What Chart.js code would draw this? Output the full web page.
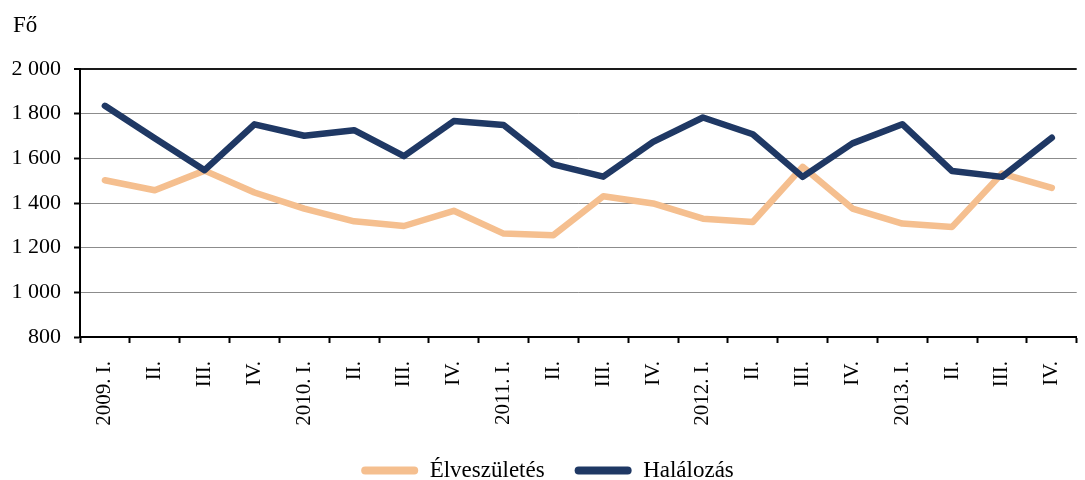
<!DOCTYPE html>
<html>
<head>
<meta charset="utf-8">
<script src="https://cdn.jsdelivr.net/npm/chart.js@4"></script>
<style>
  html, body { margin: 0; padding: 0; background: #fff; overflow: hidden; }
  #wrap { width: 1095px; height: 480px; position: relative; }
</style>
</head>
<body>
<div id="wrap"><canvas id="nepChart"></canvas></div>
<script>
// quarters 2009 I. - 2013 IV.
var quarters = ['2009. I.', 'II.', 'III.', 'IV.', '2010. I.', 'II.', 'III.', 'IV.',
    '2011. I.', 'II.', 'III.', 'IV.', '2012. I.', 'II.', 'III.', 'IV.',
    '2013. I.', 'II.', 'III.', 'IV.'];
var elveszuletes = [1502, 1457, 1545, 1447, 1375, 1318, 1297, 1365, 1263, 1256,
    1430, 1398, 1330, 1315, 1562, 1375, 1308, 1293, 1532, 1468];
var halalozas = [1835, 1690, 1547, 1752, 1701, 1726, 1610, 1767, 1749, 1573,
    1518, 1674, 1783, 1708, 1517, 1667, 1753, 1543, 1517, 1692];
var yMin = 800, yMax = 2000, yStep = 200;

var serif = '"Liberation Serif", "DejaVu Serif", serif';

document.addEventListener("DOMContentLoaded", function() {
    // "Fő" unit label above the y axis
    var unitLabel = {
        id: 'unitLabel',
        afterDraw: function(chart) {
            var ctx = chart.ctx;
            ctx.save();
            ctx.font = '23px ' + serif;
            ctx.fillStyle = '#000';
            ctx.textBaseline = 'alphabetic';
            ctx.fillText('Fő', 13, 32);
            ctx.restore();
        }
    };

    var ctx = document.getElementById('nepChart').getContext('2d');
    new Chart(ctx, {
        type: 'line',
        data: {
            labels: quarters,
            datasets: [{
                label: 'Élveszületés',
                data: elveszuletes,
                borderColor: '#F5BF8F',
                backgroundColor: '#F5BF8F',
                borderWidth: 6.5,
                borderCapStyle: 'round',
                borderJoinStyle: 'round',
                pointRadius: 0,
                tension: 0,
                order: 1
            }, {
                label: 'Halálozás',
                data: halalozas,
                borderColor: '#1F3864',
                backgroundColor: '#1F3864',
                borderWidth: 6.5,
                borderCapStyle: 'round',
                borderJoinStyle: 'round',
                pointRadius: 0,
                tension: 0,
                order: 0
            }]
        },
        options: {
            responsive: true,
            maintainAspectRatio: false,
            animation: false,
            layout: {
                // negative bottom pushes the legend row down to the edge
                padding: { top: 69, left: 0, right: 0, bottom: -12 }
            },
            plugins: {
                tooltip: { enabled: false },
                legend: {
                    position: 'bottom',
                    labels: {
                        font: { family: serif, size: 23 },
                        color: '#000',
                        boxWidth: 57,
                        boxHeight: 8,
                        useBorderRadius: true,
                        borderRadius: 4,
                        padding: 30,
                        generateLabels: function(chart) {
                            return chart.data.datasets.map(function(ds, i) {
                                return {
                                    text: ds.label,
                                    fillStyle: ds.borderColor,
                                    strokeStyle: ds.borderColor,
                                    lineWidth: 0,
                                    borderRadius: 4,
                                    datasetIndex: i
                                };
                            });
                        }
                    }
                }
            },
            scales: {
                x: {
                    offset: true,
                    afterFit: function(scale) { scale.height = 92; },
                    grid: {
                        offset: true,
                        drawOnChartArea: false,
                        drawTicks: true,
                        tickLength: 6,
                        tickColor: '#000',
                        tickWidth: 2
                    },
                    border: { color: '#000', width: 2 },
                    ticks: {
                        autoSkip: false,
                        minRotation: 90,
                        maxRotation: 90,
                        padding: 18,
                        color: '#000',
                        font: { family: serif, size: 21 }
                    }
                },
                y: {
                    min: yMin,
                    max: yMax,
                    afterFit: function(scale) { scale.width = 80; },
                    grid: {
                        color: function(c) { return c.tick && c.tick.value === yMax ? '#1a1a1a' : '#8c8c8c'; },
                        lineWidth: function(c) { return c.tick && c.tick.value === yMax ? 2 : 1; },
                        tickLength: 6,
                        tickColor: '#000',
                        tickWidth: 2
                    },
                    border: { color: '#000', width: 2 },
                    ticks: {
                        stepSize: yStep,
                        padding: 13,
                        color: '#000',
                        font: { family: serif, size: 22 },
                        callback: function(v) {
                            return String(v).replace(/\B(?=(\d{3})+(?!\d))/g, ' ');
                        }
                    }
                }
            }
        },
        plugins: [unitLabel]
    });
});
</script>
</body>
</html>
